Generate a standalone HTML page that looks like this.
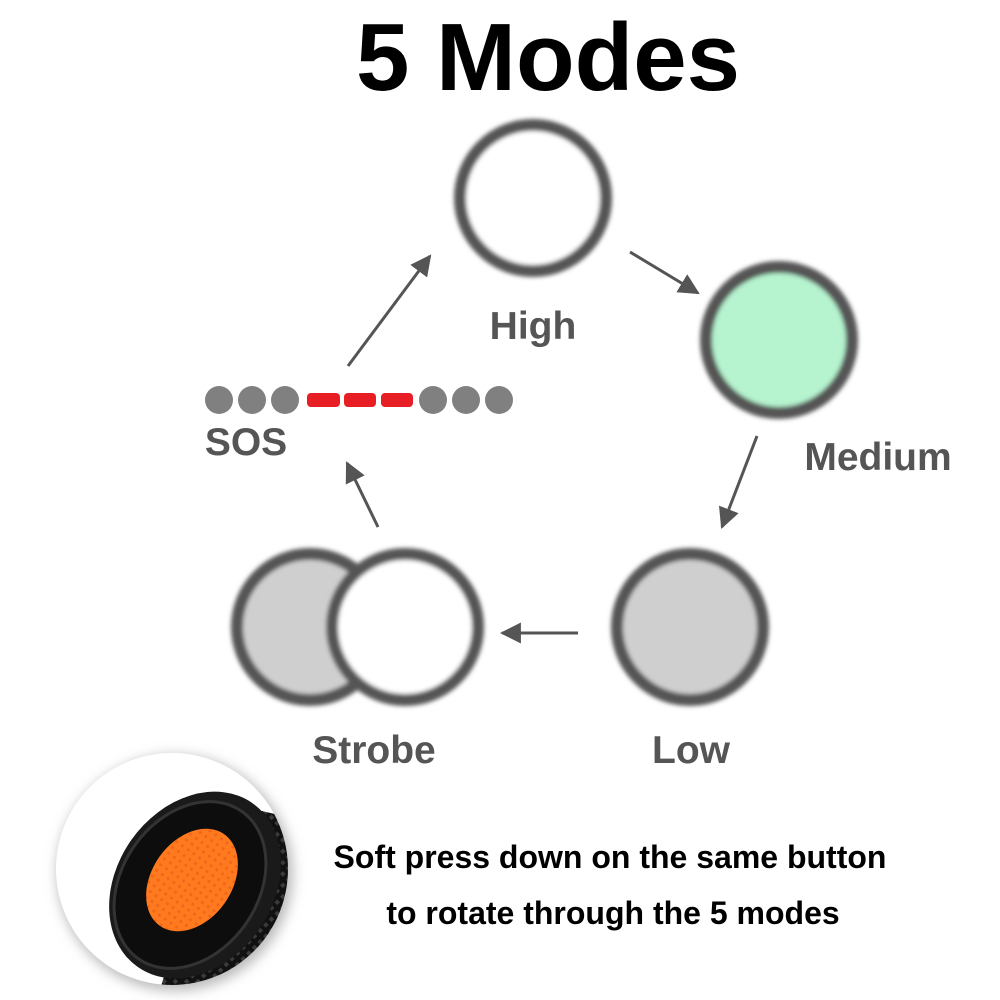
<!DOCTYPE html>
<html><head><meta charset="utf-8"><style>
html,body{margin:0;padding:0;background:#fff;}
body{width:1000px;height:1000px;overflow:hidden;position:relative;font-family:"Liberation Sans",sans-serif;}
svg{position:absolute;left:0;top:0;}
</style></head><body>
<svg width="1000" height="1000" viewBox="0 0 1000 1000">
<defs>
<filter id="bl" x="-20%" y="-20%" width="140%" height="140%"><feGaussianBlur stdDeviation="2.2"/></filter>
<filter id="sh" x="-20%" y="-20%" width="140%" height="140%"><feGaussianBlur stdDeviation="6"/></filter>
<marker id="ar" viewBox="0 0 10 10" refX="9" refY="5" markerWidth="7" markerHeight="7" orient="auto"><path d="M0,0 L10,5 L0,10 z" fill="#555"/></marker>
<pattern id="kn" width="8" height="8" patternUnits="userSpaceOnUse" patternTransform="rotate(45)"><rect width="8" height="8" fill="#111"/><rect width="4" height="4" fill="#3a3a3a"/></pattern>
<pattern id="or" width="7" height="7" patternUnits="userSpaceOnUse"><rect width="7" height="7" fill="#ff7a1e"/><circle cx="3.5" cy="3.5" r="1.5" fill="#f0651a"/></pattern>
</defs>
<text x="548" y="90" text-anchor="middle" font-family="Liberation Sans" font-weight="bold" font-size="96" fill="#000">5 Modes</text>
<g filter="url(#bl)" stroke="#555" stroke-width="12">
<circle cx="533" cy="198" r="73" fill="#fff"/>
<circle cx="779" cy="340" r="73" fill="#b6f3cf"/>
<circle cx="690" cy="627" r="73" fill="#cfcfcf"/>
<circle cx="310" cy="627" r="73" fill="#cfcfcf"/>
<circle cx="405" cy="627" r="73" fill="#fff"/>
</g>
<g stroke="#555" stroke-width="3" marker-end="url(#ar)" fill="none">
<line x1="630" y1="252" x2="698" y2="293"/>
<line x1="757" y1="436" x2="722" y2="527"/>
<line x1="578" y1="633" x2="502" y2="633"/>
<line x1="378" y1="527" x2="347" y2="463"/>
<line x1="348" y1="366" x2="430" y2="256"/>
</g>
<g fill="#808080">
<circle cx="219" cy="400" r="14"/><circle cx="252" cy="400" r="14"/><circle cx="285" cy="400" r="14"/>
<circle cx="433" cy="400" r="14"/><circle cx="466" cy="400" r="14"/><circle cx="499" cy="400" r="14"/>
</g>
<g fill="#e81e25">
<rect x="307" y="393" width="33" height="14" rx="4"/><rect x="344" y="393" width="32" height="14" rx="4"/><rect x="381" y="393" width="32" height="14" rx="4"/>
</g>
<g font-family="Liberation Sans" font-weight="bold" font-size="39" fill="#555">
<text x="533" y="339" text-anchor="middle">High</text>
<text x="878" y="470" text-anchor="middle">Medium</text>
<text x="246" y="455" text-anchor="middle">SOS</text>
<text x="374" y="763" text-anchor="middle">Strobe</text>
<text x="691" y="763" text-anchor="middle">Low</text>
</g>
<text x="610" y="868" text-anchor="middle" font-family="Liberation Sans" font-weight="bold" font-size="32" fill="#000">Soft press down on the same button</text>
<text x="613" y="924" text-anchor="middle" font-family="Liberation Sans" font-weight="bold" font-size="32" fill="#000">to rotate through the 5 modes</text>
<circle cx="175" cy="873" r="118" fill="#bbb" filter="url(#sh)"/>
<circle cx="172" cy="869" r="116" fill="#fff"/>
<clipPath id="cc"><circle cx="172" cy="869" r="116"/></clipPath>
<g clip-path="url(#cc)">
<path d="M215,800 L300,820 L300,990 L160,990 Z" fill="url(#kn)"/>
<ellipse cx="195" cy="885" rx="78" ry="100" transform="rotate(35 195 885)" fill="#1a1a1a"/>
<ellipse cx="190" cy="885" rx="68" ry="90" transform="rotate(35 190 885)" fill="#0d0d0d" stroke="#333" stroke-width="3"/>
<ellipse cx="192" cy="880" rx="40" ry="56" transform="rotate(35 192 880)" fill="url(#or)"/>
</g>
</svg>
</body></html>
